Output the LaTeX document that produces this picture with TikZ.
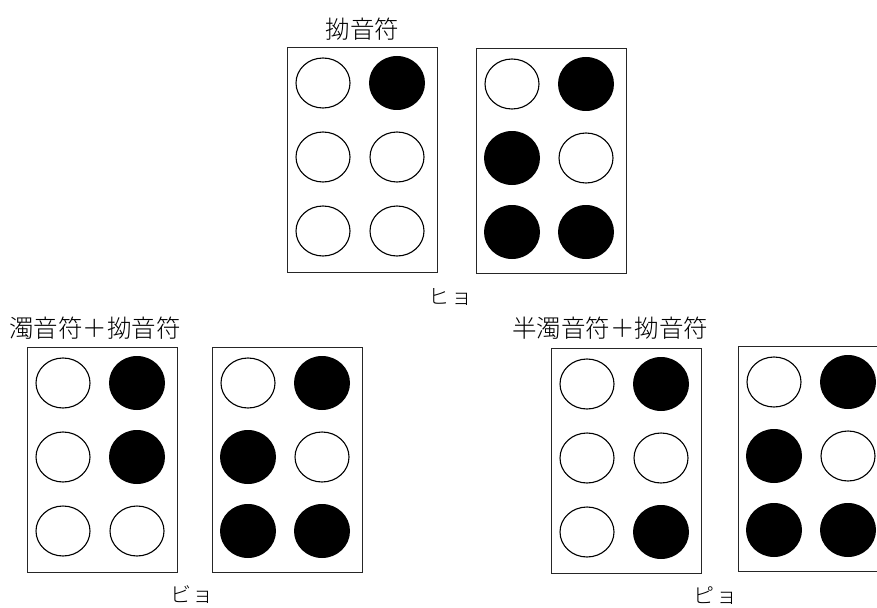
\documentclass[tikz,border=0pt]{standalone}
\usepackage{fontspec}
\newfontfamily\jpfont{Noto Sans CJK JP Light}
\usetikzlibrary{shapes.geometric, positioning}

% one braille cell: name, x, y (top left), six dots 0/1
\newcommand{\tenji}[4]{%
  \node[cell] (#1) at (#2,#3) {};
  \foreach \b [count=\d] in {#4} {
    \pgfmathsetmacro{\cx}{\d<4 ? 36 : 110}
    \pgfmathsetmacro{\cy}{36+74*mod(\d-1,3)}
    \ifnum\b=1
      \node[doton] (#1-\d) at (#2+\cx,#3+\cy) {};
    \else
      \node[dotoff] (#1-\d) at (#2+\cx,#3+\cy) {};
    \fi
  }
}

\begin{document}
\begin{tikzpicture}[x=1pt, y=-1pt,
        cell/.style={rectangle, draw=black!85, line width=1.3pt, anchor=north west, inner sep=0pt, minimum width=150pt, minimum height=225pt},
        dotoff/.style={ellipse, draw, line width=1.1pt, inner sep=0pt, minimum width=54pt, minimum height=50pt},
        doton/.style={ellipse, fill=black, inner sep=0pt, minimum width=56pt, minimum height=54pt},
        big/.style={font=\jpfont\fontsize{24.5}{24.5}\selectfont, inner sep=0pt},
        small/.style={font=\jpfont\fontsize{21}{21}\selectfont, inner sep=0pt}]

    \clip (0,0) rectangle (877,607);

    % ヒョ
    \tenji{hyoA}{287}{47}{0,0,0,1,0,0}
    \tenji{hyoB}{476}{48}{0,1,1,1,0,1}
    \node [big, above=6pt of hyoA] (hyolab) {拗音符};
    \node [small] (hyo) at (450,297) {ヒ\hspace{2pt}ョ};

    % ビョ
    \tenji{byoA}{27}{347}{0,0,0,1,1,0}
    \tenji{byoB}{212}{347}{0,1,1,1,0,1}
    \node [big, anchor=west] (byolab) at (9,328) {濁音符＋拗音符};
    \node [small] (byo) at (192,595) {ビ\hspace{2pt}ョ};

    % ピョ
    \tenji{pyoA}{551}{348}{0,0,0,1,0,1}
    \tenji{pyoB}{738}{346}{0,1,1,1,0,1}
    \node [big, anchor=west] (pyolab) at (512,328) {半濁音符＋拗音符};
    \node [small] (pyo) at (715,596) {ピ\hspace{2pt}ョ};
\end{tikzpicture}
\end{document}
